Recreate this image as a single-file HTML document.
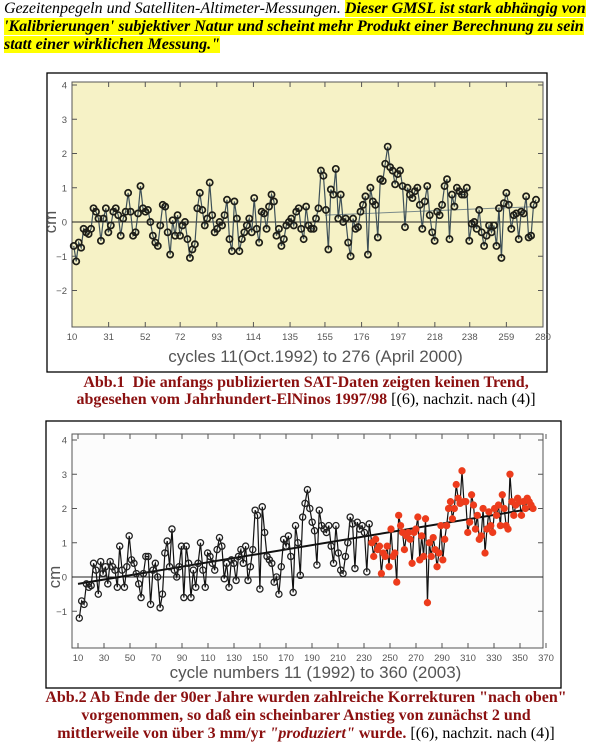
<!DOCTYPE html>
<html><head><meta charset="utf-8"><style>
body{margin:0;width:612px;height:749px;background:#fff;position:relative;overflow:hidden;font-family:"Liberation Serif",serif}
.t{position:absolute;left:4px;font-size:16px;line-height:17px;white-space:nowrap}
.hl{background:#ffff00;font-weight:bold;font-style:italic}
.cap{position:absolute;left:0;width:612px;text-align:center;font-size:16px;line-height:17px;font-weight:bold;color:#8b1010;white-space:nowrap}
.cap .n{font-weight:normal;color:#000}
svg{position:absolute;left:0;top:0}
</style></head><body>
<div class="t" style="top:0"><i>Gezeitenpegeln und Satelliten-Altimeter-Messungen. </i><span class="hl">Dieser GMSL ist stark abhängig von</span></div>
<div class="t" style="top:18px"><span class="hl">'Kalibrierungen' subjektiver Natur und scheint mehr Produkt einer Berechnung zu sein</span></div>
<div class="t" style="top:36px"><span class="hl">statt einer wirklichen Messung."</span></div>
<svg id="s" width="612" height="749"></svg>
<div class="cap" style="top:374px">Abb.1&nbsp; Die anfangs publizierten SAT-Daten zeigten keinen Trend,</div>
<div class="cap" style="top:391px">abgesehen vom Jahrhundert-ElNinos 1997/98 <span class="n">[(6), nachzit. nach (4)]</span></div>
<div class="cap" style="top:689px">Abb.2 Ab Ende der 90er Jahre wurden zahlreiche Korrekturen "nach oben"</div>
<div class="cap" style="top:707px">vorgenommen, so daß ein scheinbarer Anstieg von zunächst 2 und</div>
<div class="cap" style="top:725px">mittlerweile von über 3 mm/yr <i>"produziert"</i> wurde. <span class="n">[(6), nachzit. nach (4)]</span></div>
<script>
const c1Ticks=[10,31,52,72,93,114,135,155,176,197,218,238,259,280];
const c2Ticks=[10,30,50,70,90,110,130,150,170,190,210,230,250,270,290,310,330,350,370];
const c1Y=[-2,-1,0,1,2,3,4];
const c2Y=[-1,0,1,2,3,4];
const c1Start=11, c1End=276;
const c1=[-0.7,-1.15,-0.6,-0.75,-0.2,-0.3,-0.35,-0.2,0.4,0.3,0.1,-0.55,0.1,0.4,-0.3,-0.1,0.3,0.4,0.2,-0.4,0.1,0.3,0.85,0.3,-0.4,-0.3,0.25,1.05,0.4,0.3,0.35,0.0,-0.4,-0.6,-0.7,-0.1,0.5,0.45,-0.3,-0.95,0.05,-0.4,0.2,-0.4,-0.1,0.0,-0.5,-1.05,-0.8,-0.65,0.4,0.85,0.35,-0.1,0.1,1.15,0.2,-0.3,-0.2,0.0,-0.1,0.2,0.65,-0.5,-0.85,0.6,0.1,-0.85,-0.5,-0.3,-0.1,0.1,-0.3,0.7,-0.2,-0.6,0.3,0.25,-0.2,0.45,0.8,0.6,-0.4,-0.2,-0.7,-0.5,-0.1,0.0,0.1,-0.1,0.3,0.4,-0.2,-0.5,0.45,-0.1,-0.2,-0.2,0.1,0.4,1.5,1.35,0.35,-0.8,0.95,0.8,1.55,0.1,0.8,0.0,0.1,-0.6,-1.0,0.1,-0.2,-0.15,0.3,0.5,0.75,-0.95,1.0,0.6,0.5,-0.45,1.25,1.2,1.7,2.2,1.6,1.5,1.1,1.4,1.5,1.05,-0.15,1.0,0.8,0.7,0.9,1.0,0.5,-0.2,0.6,1.05,0.2,-0.3,-0.55,0.3,0.2,0.5,1.05,1.25,-0.5,0.8,0.45,1.0,0.9,0.8,0.8,1.0,-0.55,-0.05,0.0,-0.2,0.35,-0.3,-0.7,-0.4,-0.1,-0.3,-0.1,-0.7,0.4,-1.05,0.55,0.85,0.5,-0.2,0.2,0.25,-0.5,0.3,0.25,0.75,-0.45,-0.4,0.5,0.65];
const c1Trend=[[155,0.2],[276,0.45]];
const c2BStart=11, c2BEnd=234, c2RStart=236, c2REnd=360;
const c2Black=[-1.2,-0.7,-0.8,-0.2,-0.3,-0.25,0.4,0.2,-0.5,0.45,0.1,0.3,-0.2,0.45,0.3,0.2,-0.3,0.9,0.2,-0.3,0.3,1.2,0.5,0.4,0.1,-0.2,-0.6,0.1,0.6,0.6,-0.8,0.2,0.4,0.0,-0.9,-0.5,0.7,1.05,0.3,1.4,0.2,0.0,0.3,0.9,-0.6,0.9,0.4,-0.6,0.2,-0.3,0.4,1.0,0.2,-0.3,0.7,0.6,0.4,0.2,0.8,1.15,0.9,-0.05,0.4,-0.3,0.5,0.4,-0.1,0.6,0.8,0.4,0.9,-0.1,0.3,0.8,1.95,1.8,-0.35,2.05,1.3,0.6,0.5,0.4,-0.15,0.0,-0.5,0.3,1.1,0.9,1.2,0.6,-0.45,1.5,1.0,0.05,1.75,2.15,2.55,2.0,1.6,1.35,0.35,1.95,1.5,1.4,1.3,1.5,0.9,0.4,1.5,0.7,0.2,0.1,0.6,1.0,1.75,1.55,0.25,1.6,1.4,1.5,1.3,0.15,1.55];
const c2Red=[1.0,0.6,1.1,0.8,0.9,0.1,0.7,0.6,0.9,0.3,1.4,0.6,0.7,-0.15,1.8,1.5,1.3,0.8,1.2,1.3,1.1,0.4,1.3,1.4,1.75,0.5,1.2,0.6,1.7,-0.75,1.0,0.6,1.15,0.8,0.3,0.7,1.5,0.5,1.1,1.5,2.0,2.2,1.7,2.0,2.7,2.3,2.15,3.1,2.2,2.2,1.3,1.6,2.4,2.1,1.4,1.8,1.1,1.2,2.0,0.7,1.4,1.9,1.5,1.3,2.0,1.8,2.1,1.5,2.4,2.0,1.5,1.4,3.0,2.2,1.8,2.1,2.3,2.2,1.8,2.2,2.0,2.3,2.2,2.1,2.0];
const c2Trend=[[10,-0.2],[360,2.0]];

const S=document.getElementById('s'),NS='http://www.w3.org/2000/svg';
function mk(t,a,p){const e=document.createElementNS(NS,t);for(const k in a)e.setAttribute(k,a[k]);(p||S).appendChild(e);return e;}
function chart(o){
  const g=mk('g',{});
  
  
  const X=v=>o.x0+(v-o.xmin)/(o.xmax-o.xmin)*(o.x1-o.x0);
  const Y=v=>o.y0+(v-o.ymin)/(o.ymax-o.ymin)*(o.y1-o.y0);
  const fr=mk('rect',{x:o.fx,y:o.fy,width:o.fw,height:o.fh,fill:o.outer,stroke:'#000','stroke-width':1.3},g);
  
  const pa=mk('rect',{x:o.px0,y:o.py1,width:o.px1-o.px0,height:o.py0-o.py1,fill:o.bg,stroke:'#555','stroke-width':1},g);
  
  o.xt.forEach(v=>{const x=X(v);
    mk('line',{x1:x,x2:x,y1:o.py0,y2:o.py0-5,stroke:'#555'},g);mk('line',{x1:x,x2:x,y1:o.py1,y2:o.py1+5,stroke:'#555'},g);
    const t=mk('text',{x:x,y:o.py0+13,'font-size':9.5,'text-anchor':'middle',fill:'#555','font-family':'Liberation Sans,sans-serif'},g);t.textContent=v;
    });
  o.yt.forEach(v=>{const y=Y(v);
    mk('line',{x1:o.px0,x2:o.px0+5,y1:y,y2:y,stroke:'#555'},g);mk('line',{x1:o.px1,x2:o.px1-5,y1:y,y2:y,stroke:'#555'},g);
    const t=mk('text',{x:o.px0-5,y:y+3.5,'font-size':9.5,'text-anchor':'end',fill:'#555','font-family':'Liberation Sans,sans-serif'},g);t.textContent=v<0?'\u2212'+(-v):v;
    });
  const zl=mk('line',{x1:o.px0,x2:o.px1,y1:Y(0),y2:Y(0),stroke:'#222','stroke-width':1},g);
  
  const yl=mk('text',{x:o.ylx,y:Y(0),'font-size':17,'text-anchor':'middle',fill:'#555','font-family':'Liberation Sans,sans-serif',transform:`rotate(-90 ${o.ylx} ${Y(0)})`},g);yl.textContent='cm';
  
  const xl=mk('text',{x:(o.px0+o.px1)/2+8,y:o.xly,'font-size':17,'text-anchor':'middle',fill:'#555','font-family':'Liberation Sans,sans-serif'},g);xl.textContent=o.xlabel;
  
  const tr=mk('line',{x1:X(o.trend[0][0]),y1:Y(o.trend[0][1]),x2:X(o.trend[1][0]),y2:Y(o.trend[1][1]),stroke:o.trendC,'stroke-width':o.trendW},g);
  
  let prev=null;
  o.series.forEach(s=>{
    const pts=s.vals.map((v,i)=>[X(s.a+i*(s.b-s.a)/(s.vals.length-1)),Y(v)]);
    const all=prev?[prev].concat(pts):pts;
    const pl=mk('polyline',{points:all.map(p=>p.join(',')).join(' '),fill:'none',stroke:o.lineC,'stroke-width':1.2},g);
    
    pts.forEach(p=>{const c=mk('circle',{cx:p[0],cy:p[1],r:3.1,fill:s.fill,stroke:s.stroke,'stroke-width':s.sw},g);
      });
    prev=pts[pts.length-1];
  });
}
chart({name:'chart-abb1',fx:47,fy:73,fw:500,fh:299,outer:'#fff',bg:'#f6f2c6',px0:72,px1:543,py0:327,py1:82,
  x0:72,x1:543,xmin:10,xmax:280,y0:222,y1:85,ymin:0,ymax:4,xt:c1Ticks,yt:c1Y,ylx:56,xly:362,
  xlabel:'cycles 11(Oct.1992) to 276 (April 2000)',trend:c1Trend,trendC:'#7a8a8a',trendW:1,lineC:'#3e5058',
  series:[{name:'sat-data',vals:c1,a:c1Start,b:c1End,fill:'none',stroke:'#1e1e18',sw:1.7}]});
chart({name:'chart-abb2',fx:46,fy:421,fw:515,fh:267,outer:'#fff',bg:'#fcfcfc',px0:72,px1:543,py0:648,py1:434,
  x0:78,x1:546,xmin:10,xmax:370,y0:577,y1:440,ymin:0,ymax:4,xt:c2Ticks,yt:c2Y,ylx:60,xly:678,
  xlabel:'cycle numbers 11 (1992) to 360 (2003)',trend:c2Trend,trendC:'#111',trendW:2,lineC:'#111',
  series:[{name:'original-data',vals:c2Black,a:c2BStart,b:c2BEnd,fill:'none',stroke:'#222',sw:1.3},
          {name:'corrected-data',vals:c2Red,a:c2RStart,b:c2REnd,fill:'#f03a1c',stroke:'#e8401e',sw:1.1}]});
</script>
</body></html>
